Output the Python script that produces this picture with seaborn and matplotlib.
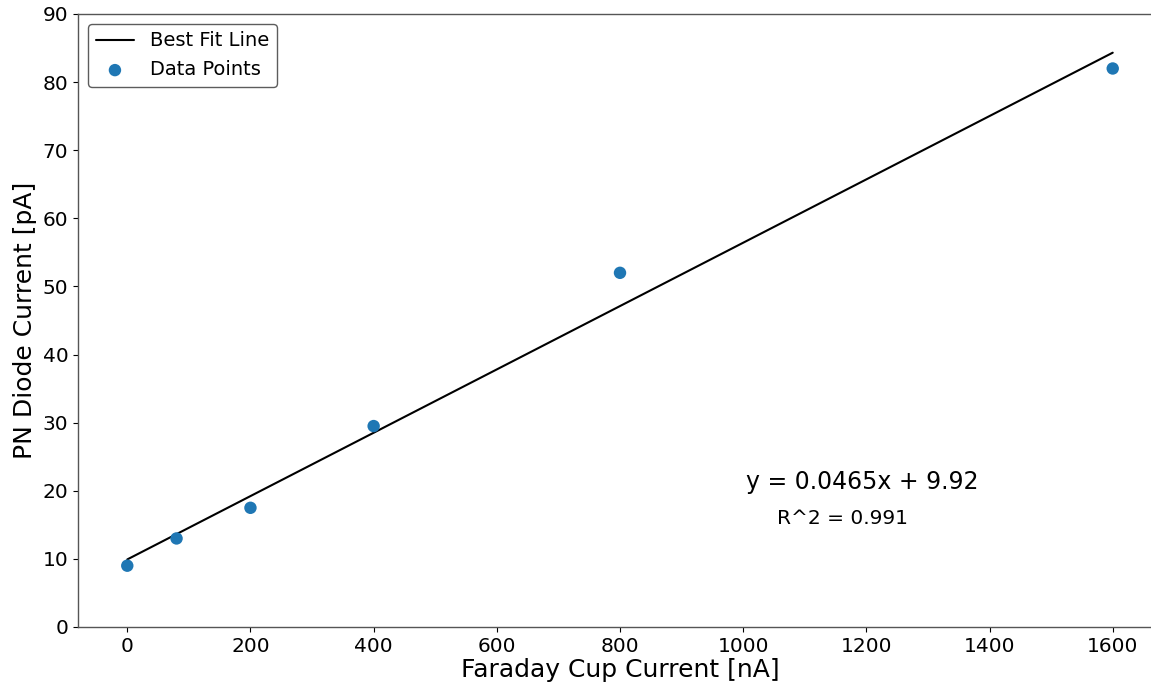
import numpy as np
import pandas as pd
import seaborn as sns
import matplotlib
matplotlib.use("Agg")
import matplotlib.pyplot as plt

# Measurements: Faraday cup current vs PN diode current
faraday_na = [0, 80, 200, 400, 800, 1600]
diode_pa = [9.0, 13.0, 17.5, 29.5, 52.0, 82.0]

# Linear fit parameters
slope = 0.0465
intercept = 9.92
r_squared = 0.991

sns.set_style("white")
plt.rcParams["font.family"] = ["DejaVu Sans"]
plt.rcParams["text.color"] = "black"
plt.rcParams["axes.labelcolor"] = "black"
plt.rcParams["xtick.color"] = "black"
plt.rcParams["ytick.color"] = "black"

df = pd.DataFrame({"x": faraday_na, "y": diode_pa})
fit_x = np.array([min(faraday_na), max(faraday_na)])
fit_df = pd.DataFrame({"x": fit_x, "y": slope * fit_x + intercept})

fig = plt.figure(figsize=(11.51, 6.85), dpi=100)
ax = fig.add_axes([78 / 1151, 58 / 685, (1162 - 78) / 1151, (627 - 14) / 685])

sns.lineplot(data=fit_df, x="x", y="y", ax=ax, color="black", linewidth=1.5,
             label="Best Fit Line")
sns.scatterplot(data=df, x="x", y="y", ax=ax, color="#1f77b4", s=80,
                edgecolor="none", label="Data Points", zorder=3)

ax.set_xlim(-80, 1680)
ax.set_ylim(0, 90)
ax.set_xticks(np.arange(0, 1601, 200))
ax.set_yticks(np.arange(0, 91, 10))
ax.tick_params(axis="both", labelsize=14.5, length=3.5, width=0.8, left=True, bottom=True,
               colors="black")
ax.set_xlabel("Faraday Cup Current [nA]", fontsize=18, labelpad=2)
ax.set_ylabel("PN Diode Current [pA]", fontsize=18)
for sp in ax.spines.values():
    sp.set_color("#555555")
    sp.set_linewidth(1.0)

ax.text(1193, 21.3, f"y = {slope}x + {intercept}", fontsize=17, ha="center", va="center")
ax.text(1162, 16.0, f"R^2 = {r_squared}", fontsize=14.5, ha="center", va="center")

leg = ax.legend(loc="upper left", fontsize=14, frameon=True)
leg.get_frame().set_edgecolor("#333333")
for t in leg.get_texts():
    t.set_color("black")

fig.savefig("out.png", dpi=100)
